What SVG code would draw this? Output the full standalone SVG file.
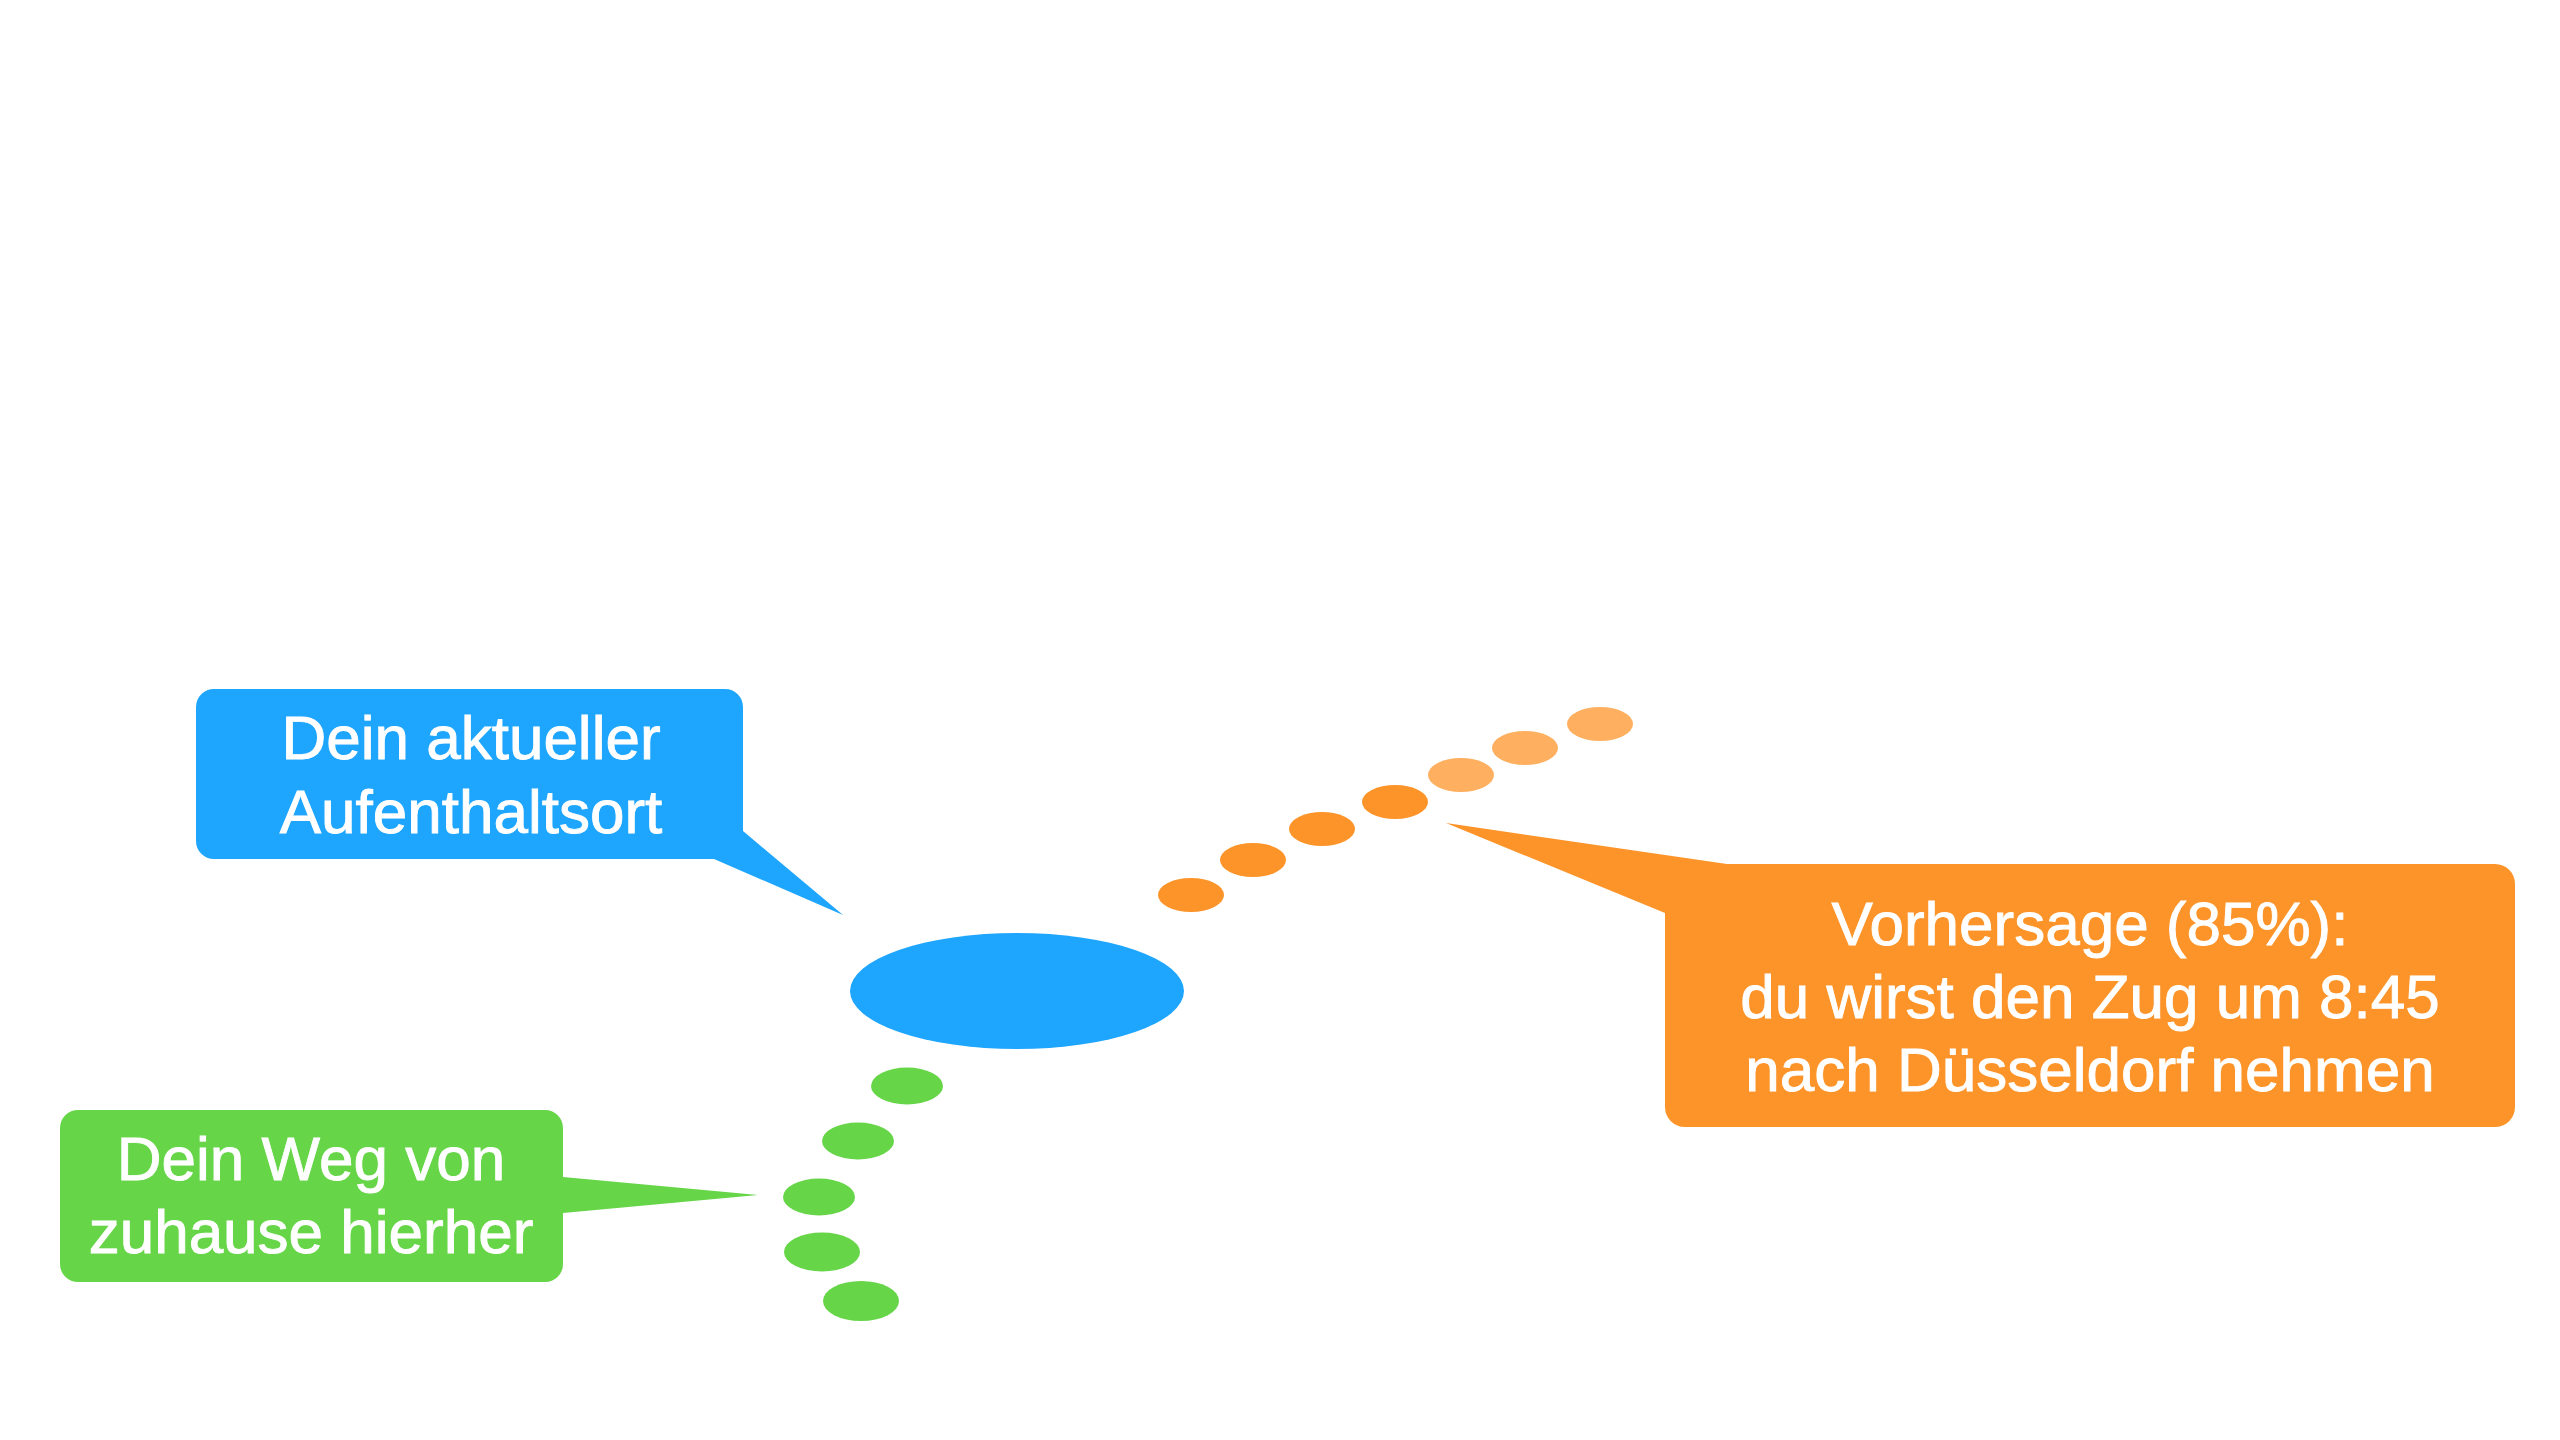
<svg xmlns="http://www.w3.org/2000/svg" width="2560" height="1440" viewBox="0 0 2560 1440">
<style>
.lbl{font-family:"Liberation Sans",Arial,sans-serif;font-size:62px;fill:#ffffff;stroke:#ffffff;stroke-width:0.9px;text-anchor:middle}
.blue{fill:#1EA5FD}
.green{fill:#66D548}
.orange{fill:#FC9429}
.lorange{fill:#FEAF5F}
</style>
<rect width="2560" height="1440" fill="#ffffff"/>
<g id="current-location">
<ellipse class="blue" cx="1017" cy="991" rx="167" ry="58"/>
</g>
<g id="connectors">
<g id="path-home">
<ellipse class="green" cx="907" cy="1086" rx="36" ry="18.5"/>
<ellipse class="green" cx="858" cy="1141" rx="36" ry="18.5"/>
<ellipse class="green" cx="819" cy="1197" rx="36" ry="18.5"/>
<ellipse class="green" cx="822" cy="1252" rx="38" ry="19.5"/>
<ellipse class="green" cx="861" cy="1301" rx="38" ry="20"/>
</g>
<g id="predicted-path">
<ellipse class="orange" cx="1191" cy="895" rx="33" ry="17"/>
<ellipse class="orange" cx="1253" cy="860" rx="33" ry="17"/>
<ellipse class="orange" cx="1322" cy="829" rx="33" ry="17"/>
<ellipse class="orange" cx="1395" cy="802" rx="33" ry="17"/>
<ellipse class="lorange" cx="1461" cy="775" rx="33" ry="17"/>
<ellipse class="lorange" cx="1525" cy="748" rx="33" ry="17"/>
<ellipse class="lorange" cx="1600" cy="724" rx="33" ry="17"/>
</g>
</g>
<g id="callout-current">
<path class="blue" d="M214,689 H725 A18,18 0 0 1 743,707 V831 L843,915 L714,859 H214 A18,18 0 0 1 196,841 V707 A18,18 0 0 1 214,689 Z"/>
<text class="lbl" x="471" y="759">Dein aktueller</text>
<text class="lbl" x="471" y="833">Aufenthaltsort</text>
</g>
<g id="callout-home">
<path class="green" d="M78,1110 H545 A18,18 0 0 1 563,1128 V1177 L758,1195 L563,1213 V1264 A18,18 0 0 1 545,1282 H78 A18,18 0 0 1 60,1264 V1128 A18,18 0 0 1 78,1110 Z"/>
<text class="lbl" x="311" y="1180">Dein Weg von</text>
<text class="lbl" x="311" y="1253">zuhause hierher</text>
</g>
<g id="callout-prediction">
<path class="orange" d="M1727,864 H2495 A20,20 0 0 1 2515,884 V1107 A20,20 0 0 1 2495,1127 H1685 A20,20 0 0 1 1665,1107 V913 L1446,823 Z"/>
<text class="lbl" x="2090" y="945">Vorhersage (85%):</text>
<text class="lbl" x="2090" y="1018">du wirst den Zug um 8:45</text>
<text class="lbl" x="2090" y="1091">nach Düsseldorf nehmen</text>
</g>
</svg>
